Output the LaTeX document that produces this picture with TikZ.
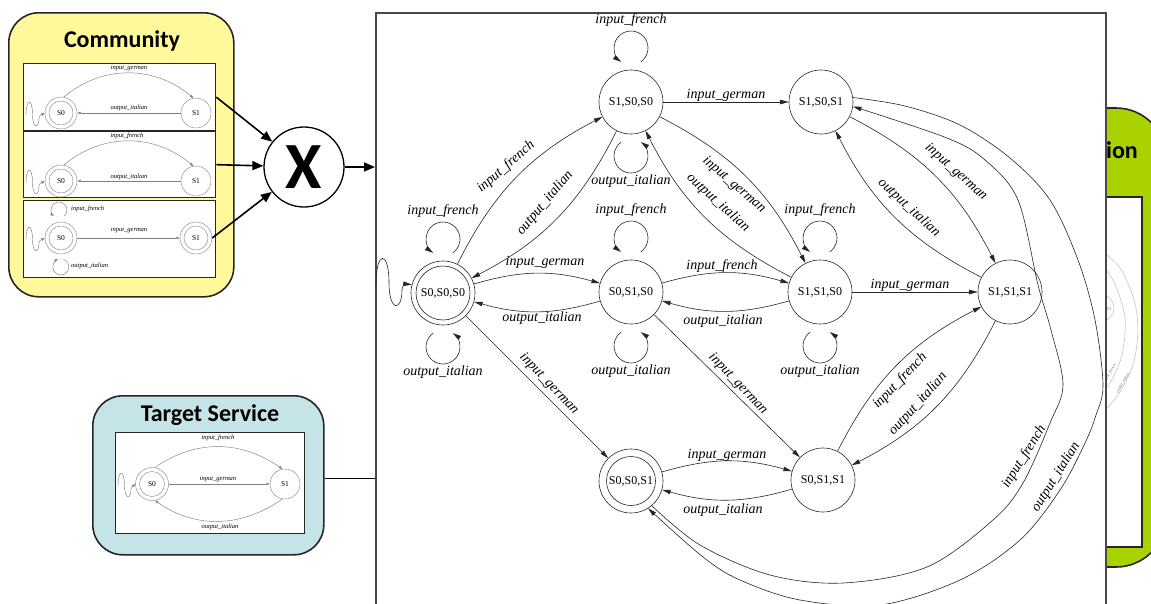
\documentclass[tikz,border=0pt]{standalone}
\usepackage{fontspec}
\setmainfont{Liberation Serif}
\newfontfamily\calib{Carlito}
\usetikzlibrary{arrows.meta}
\definecolor{yel}{RGB}{255,249,155}
\definecolor{cya}{RGB}{197,228,232}
\definecolor{grn}{RGB}{170,210,0}
\definecolor{bord}{RGB}{72,72,72}
\newcommand\toploop[3]{%
 \draw[edge] ([shift={(9.75,40.07)}]#1.center) arc[start angle=-55,end angle=235,radius=17];
 \node[lbl] (#2) at ([shift={(0,82)}]#1.center) {#3};}
\newcommand\botloop[3]{%
 \draw[edge] ([shift={(-9.75,-40.07)}]#1.center) arc[start angle=125,end angle=415,radius=17];
 \node[lbl] (#2) at ([shift={(0,-79)}]#1.center) {#3};}
\newcommand\squig[5]{%
 \begin{scope}[shift={(#1,#2)},scale=#3]
 \draw[#4] (0,0) .. controls (0,34) and (13,34) .. (13,1) .. controls (13,-28) and (26,-28) .. (26,-6) .. controls (26,-1) and (30,0) .. (#5);
 \end{scope}}
\begin{document}
\begin{tikzpicture}[x=1pt,y=1pt,
 st/.style={circle,draw=black!85,line width=0.6pt,minimum size=64pt,inner sep=0pt,font=\fontsize{12}{12}\selectfont},
 edge/.style={draw=black!85,line width=0.6pt,-{Triangle[length=8.5pt,width=4.5pt]}},
 lbl/.style={font=\fontsize{14}{14}\selectfont\itshape,inner sep=0pt},
 ms/.style={circle,draw=black!45,line width=0.45pt,minimum size=30pt,inner sep=0pt,font=\fontsize{7.5}{7.5}\selectfont},
 medge/.style={draw=black!50,line width=0.45pt,-{Triangle[length=3.5pt,width=2.5pt]}},
 mlbl/.style={font=\fontsize{6.5}{6.5}\selectfont\itshape,inner sep=0pt},
 panel/.style={draw=black!85,line width=1.6pt,rounded corners=30pt,inner sep=0pt},
 title/.style={font=\calib\bfseries\fontsize{24}{24}\selectfont,inner sep=0pt},
 fatarrow/.style={line width=1.6pt,-{Triangle[length=11pt,width=9pt]}},
 minibox/.style={draw=black!85,line width=1.3pt,fill=white,inner sep=0pt},
 faint/.style={draw=black!30,line width=0.4pt}
]
\clip (0,0) rectangle (1151,-603);
% ---- green panel (behind) ----
\path[draw=black!85,line width=1.6pt,fill=grn,rounded corners=50pt] (950,-108) rectangle (1166,-567);
\draw[minibox] (1000,-197) rectangle (1142,-547);
\begin{scope}
 \clip (1000,-197) rectangle (1142,-547);
 \draw[faint] plot[smooth] coordinates {(1096,-246) (1120,-268) (1134,-300) (1138,-330) (1133,-365) (1118,-395) (1096,-420)};
 \draw[faint] plot[smooth] coordinates {(1096,-256) (1114,-282) (1125,-318) (1122,-355) (1110,-383) (1096,-400)};
 \draw[faint] (1100,-308) circle (14pt);
 \node[font=\fontsize{4.5}{4.5}\selectfont,text=black!55,inner sep=0pt] (gs1) at (1109,-309) {S1};
 \node[font=\fontsize{4}{4}\selectfont\itshape,text=black!55,inner sep=0pt,rotate=58] (gl1) at (1110,-373) {input\_french};
 \node[font=\fontsize{4}{4}\selectfont\itshape,text=black!55,inner sep=0pt,rotate=60] (gl2) at (1123,-383) {output\_italian};
\end{scope}
\node[title,anchor=base east] (gtitle) at (1138,-158) {ion};
% ---- main box ----
\node[draw=bord,line width=1.8pt,fill=white,minimum width=730pt,minimum height=620pt,anchor=north west,inner sep=0pt] (mainb) at (375,-12) {};
% ---- community ----
\node[panel,fill=yel,minimum width=225pt,minimum height=284pt,anchor=north west] (comm) at (8,-12) {};
\node[title,anchor=base] (commt) at (122,-47) {Community};
\node[minibox,minimum width=192pt,minimum height=67pt,anchor=north west] (cb1) at (23,-63) {};
\node[minibox,minimum width=192pt,minimum height=66pt,anchor=north west] (cb2) at (23,-131) {};
\node[minibox,minimum width=192pt,minimum height=77pt,anchor=north west] (cb3) at (23,-200) {};
% box 1
\node[ms,minimum size=32pt] (c1a) at (61,-113) {S0};
\draw[draw=black!45,line width=0.45pt] (c1a.center) circle (12pt);
\node[ms] (c1b) at (196,-113) {S1};
\draw[medge] (c1a.80) to[out=40,in=140] (c1b.100);
\node[mlbl] (c1l1) at (129,-68) {input\_german};
\draw[medge] (c1b) -- (c1a);
\node[mlbl] (c1l2) at (129,-108) {output\_italian};
\squig{26}{-115}{0.5}{medge}{c1a.west}
% box 2
\node[ms,minimum size=32pt] (c2a) at (61,-181) {S0};
\draw[draw=black!45,line width=0.45pt] (c2a.center) circle (12pt);
\node[ms] (c2b) at (196,-181) {S1};
\draw[medge] (c2a.80) to[out=40,in=140] (c2b.100);
\node[mlbl] (c2l1) at (127,-136) {input\_french};
\draw[medge] (c2b) -- (c2a);
\node[mlbl] (c2l2) at (129,-177) {output\_italian};
\squig{26}{-183}{0.5}{medge}{c2a.west}
% box 3
\node[ms,minimum size=32pt] (c3a) at (61,-238) {S0};
\draw[draw=black!45,line width=0.45pt] (c3a.center) circle (12pt);
\node[ms,minimum size=32pt] (c3b) at (196,-238) {S1};
\draw[draw=black!45,line width=0.45pt] (c3b.center) circle (12pt);
\draw[medge] ([shift={(3.1,21.9)}]c3a.center) arc[start angle=-50,end angle=230,radius=8];
\node[mlbl,anchor=west] (c3l1) at (71,-209) {input\_french};
\draw[medge] ([shift={(2.6,-21.4)}]c3a.center) arc[start angle=70,end angle=-250,radius=8];
\node[mlbl,anchor=west] (c3l3) at (71,-266) {output\_italian};
\draw[medge] (c3a) -- (c3b);
\node[mlbl] (c3l2) at (129,-230) {input\_german};
\squig{26}{-240}{0.5}{medge}{c3a.west}
% ---- X ----
\node[circle,draw=black,line width=1.3pt,fill=white,minimum size=80pt,inner sep=0pt,font=\calib\bfseries\fontsize{66}{66}\selectfont] (X) at (304,-167) {X};
\draw[fatarrow] (cb1.east) -- (X);
\draw[fatarrow] (cb2.east) -- (X);
\draw[fatarrow] (c3b.east) -- (X);
\draw[fatarrow] (X) -- (X -| mainb.west);
% ---- target ----
\node[panel,fill=cya,minimum width=231pt,minimum height=159pt,anchor=north west] (tgt) at (92,-395) {};
\node[title,anchor=base] (tgtt) at (210,-421) {Target Service};
\node[minibox,minimum width=189pt,minimum height=101pt,anchor=north west] (tb) at (115,-432) {};
\node[ms,minimum size=33pt] (ts0) at (152,-484) {S0};
\draw[draw=black!45,line width=0.45pt] (ts0.center) circle (12.5pt);
\node[ms] (ts1) at (285,-484) {S1};
\draw[medge] (ts0.80) to[out=35,in=145] (ts1.100);
\node[mlbl] (tl1) at (218,-438) {input\_french};
\draw[medge] (ts0) -- (ts1);
\node[mlbl] (tl2) at (218,-479) {input\_german};
\draw[medge] (ts1.-100) to[out=-145,in=-35] (ts0.-80);
\node[mlbl] (tl3) at (220,-527) {output\_italian};
\squig{118}{-486}{0.5}{medge}{ts0.west}
\draw[line width=1.6pt] ([yshift=-3pt]tgt.east) -- ([yshift=-3pt]tgt.east -| mainb.west);
% ---- main graph ----
\node[st] (A) at (443,-293) {S0,S0,S0};
\draw[draw=black!85,line width=0.6pt] (A.center) circle (27pt);
\node[st] (B) at (631,-102) {S1,S0,S0};
\node[st] (C) at (821,-102) {S1,S0,S1};
\node[st] (D) at (631,-292) {S0,S1,S0};
\node[st] (E) at (820,-292) {S1,S1,S0};
\node[st] (F) at (1010,-292) {S1,S1,S1};
\node[st] (G) at (631,-481) {S0,S0,S1};
\draw[draw=black!85,line width=0.6pt] (G.center) circle (24.5pt);
\node[st] (H) at (823,-480) {S0,S1,S1};
\squig{376}{-284}{1}{edge}{A.165}
\toploop{A}{Alt}{input\_french}
\botloop{A}{Alb}{output\_italian}
\toploop{B}{Blt}{input\_french}
\botloop{B}{Blb}{output\_italian}
\toploop{D}{Dlt}{input\_french}
\botloop{D}{Dlb}{output\_italian}
\toploop{E}{Elt}{input\_french}
\botloop{E}{Elb}{output\_italian}
\draw[edge] (A) to[bend left=18] (B);
\node[lbl,rotate=41] (lab1) at (506,-167) {input\_french};
\draw[edge] (B) to[bend left=18] (A);
\node[lbl,rotate=50] (lab2) at (545,-203) {output\_italian};
\draw[edge] (B) -- (C);
\node[lbl] (lab3) at (726,-95) {input\_german};
\draw[edge] (A) to[bend left=16] (D);
\node[lbl] (lab4) at (545,-262) {input\_german};
\draw[edge] (D) to[bend left=16] (A);
\node[lbl] (lab5) at (542,-318) {output\_italian};
\draw[edge] (D) to[bend left=16] (E);
\node[lbl] (lab6) at (722,-266) {input\_french};
\draw[edge] (E) to[bend left=16] (D);
\node[lbl] (lab7) at (723,-321) {output\_italian};
\draw[edge] (E) -- (F);
\node[lbl] (lab8) at (910,-285) {input\_german};
\draw[edge] (B) to[bend left=18] (E);
\node[lbl,rotate=-41] (lab9) at (734,-185) {input\_german};
\draw[edge] (E) to[bend left=18] (B);
\node[lbl,rotate=-42] (lab10) at (718,-203) {output\_italian};
\draw[edge] (C) to[bend left=18] (F);
\node[lbl,rotate=-42] (lab11) at (956,-172) {input\_german};
\draw[edge] (F) to[bend left=18] (C);
\node[lbl,rotate=-43] (lab12) at (909,-208) {output\_italian};
\draw[edge] (A) -- (G);
\node[lbl,rotate=-46] (lab13) at (549,-384) {input\_german};
\draw[edge] (D) -- (H);
\node[lbl,rotate=-46] (lab14) at (738,-384) {input\_german};
\draw[edge] (G) to[bend left=16] (H);
\node[lbl] (lab15) at (727,-455) {input\_german};
\draw[edge] (H) to[bend left=16] (G);
\node[lbl] (lab16) at (723,-510) {output\_italian};
\draw[edge] (H) to[bend left=18] (F);
\node[lbl,rotate=46] (lab17) at (900,-381) {input\_french};
\draw[edge] (F) to[bend left=18] (H);
\node[lbl,rotate=48] (lab18) at (918,-404) {output\_italian};
\draw[edge] plot[smooth,tension=0.55] coordinates {(G.-50) (700,-545) (770,-575) (843,-583) (927,-567) (993,-520) (1023,-483) (1050,-423) (1063,-385) (1051,-330) (1038,-285) (1018,-200) (985,-160) (947,-138) (C.-8)};
\node[lbl,rotate=58] (lab19) at (1024,-457) {input\_french};
\draw[edge] plot[smooth,tension=0.55] coordinates {(C.8) (905,-106) (960,-125) (1010,-158) (1050,-200) (1078,-260) (1095,-320) (1103,-385) (1096,-415) (1085,-443) (1060,-490) (1020,-540) (960,-580) (880,-605) (800,-600) (740,-580) (703,-557) (G.-58)};
\node[lbl,rotate=58] (lab20) at (1056,-477) {output\_italian};
\end{tikzpicture}
\end{document}
